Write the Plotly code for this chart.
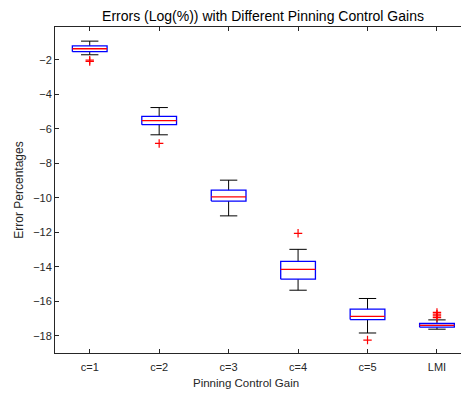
import plotly.graph_objects as go

categories = ["c=1", "c=2", "c=3", "c=4", "c=5", "LMI"]
upper_whisker = [-0.92, -4.77, -8.98, -12.99, -15.84, -17.08]
q3 = [-1.19, -5.28, -9.56, -13.69, -16.46, -17.29]
median = [-1.36, -5.53, -9.95, -14.15, -16.88, -17.40]
q1 = [-1.53, -5.76, -10.19, -14.72, -17.06, -17.50]
lower_whisker = [-1.71, -6.35, -11.05, -15.36, -17.84, -17.62]
outliers = [[-2.02, -2.10], [-6.85], [], [-12.06], [-18.25], [-16.65, -16.75, -16.85, -16.95]]

BOX_HW = 0.25
CAP_HW = 0.125
pos = list(range(1, len(categories) + 1))

bx, by, mx, my, wx, wy, ox, oy = [], [], [], [], [], [], [], []
for i, p in enumerate(pos):
    bx += [p - BOX_HW, p + BOX_HW, p + BOX_HW, p - BOX_HW, p - BOX_HW, None]
    by += [q1[i], q1[i], q3[i], q3[i], q1[i], None]
    mx += [p - BOX_HW, p + BOX_HW, None]
    my += [median[i], median[i], None]
    wx += [p, p, None, p, p, None, p - CAP_HW, p + CAP_HW, None, p - CAP_HW, p + CAP_HW, None]
    wy += [q3[i], upper_whisker[i], None, q1[i], lower_whisker[i], None,
           upper_whisker[i], upper_whisker[i], None, lower_whisker[i], lower_whisker[i], None]
    for v in outliers[i]:
        ox.append(p)
        oy.append(v)

fig = go.Figure()
fig.add_trace(go.Scatter(x=wx, y=wy, mode="lines", line=dict(color="#000000", width=1), hoverinfo="skip"))
fig.add_trace(go.Scatter(x=bx, y=by, mode="lines", line=dict(color="#0000FF", width=1.3), hoverinfo="skip"))
fig.add_trace(go.Scatter(x=mx, y=my, mode="lines", line=dict(color="#FF0000", width=1.3), hoverinfo="skip"))
fig.add_trace(go.Scatter(x=ox, y=oy, mode="markers",
                         marker=dict(symbol="cross-thin", size=6, line=dict(color="#FF0000", width=1.2)),
                         hoverinfo="skip"))

axcol = "#262626"
font = "Liberation Sans, Arial, Helvetica, sans-serif"
fig.update_layout(
    width=461, height=397,
    margin=dict(l=55, r=0, t=27, b=44),
    paper_bgcolor="white", plot_bgcolor="white",
    showlegend=False,
    font=dict(family=font, size=11, color=axcol),
    title=dict(text="Errors (Log(%)) with Different Pinning Control Gains",
               x=(263 - 55) / 406, xref="paper", xanchor="center",
               y=1, yref="paper", yanchor="bottom", pad=dict(b=6),
               font=dict(size=14, color="#000000")),
    xaxis=dict(range=[0.5, 6.346], tickvals=pos, ticktext=categories,
               ticks="inside", ticklen=4, tickcolor=axcol, showline=True, linecolor=axcol,
               linewidth=1, mirror="ticks", showgrid=False, zeroline=False,
               ticklabelstandoff=4, tickfont=dict(size=11)),
    yaxis=dict(range=[-19.0, -0.1], tickvals=[-2, -4, -6, -8, -10, -12, -14, -16, -18],
               ticks="inside", ticklen=4, tickcolor=axcol, showline=True, linecolor=axcol,
               linewidth=1, mirror=False, showgrid=False, zeroline=False,
               tickfont=dict(size=11),
               title=dict(text="Error Percentages", font=dict(size=12), standoff=6)),
    annotations=[dict(text="Pinning Control Gain", xref="paper", yref="paper",
                      x=(246 - 55) / 406, y=0, yshift=-22, xanchor="center", yanchor="top",
                      showarrow=False, font=dict(size=11.5, color=axcol))],
)

fig.write_html("out.html")
